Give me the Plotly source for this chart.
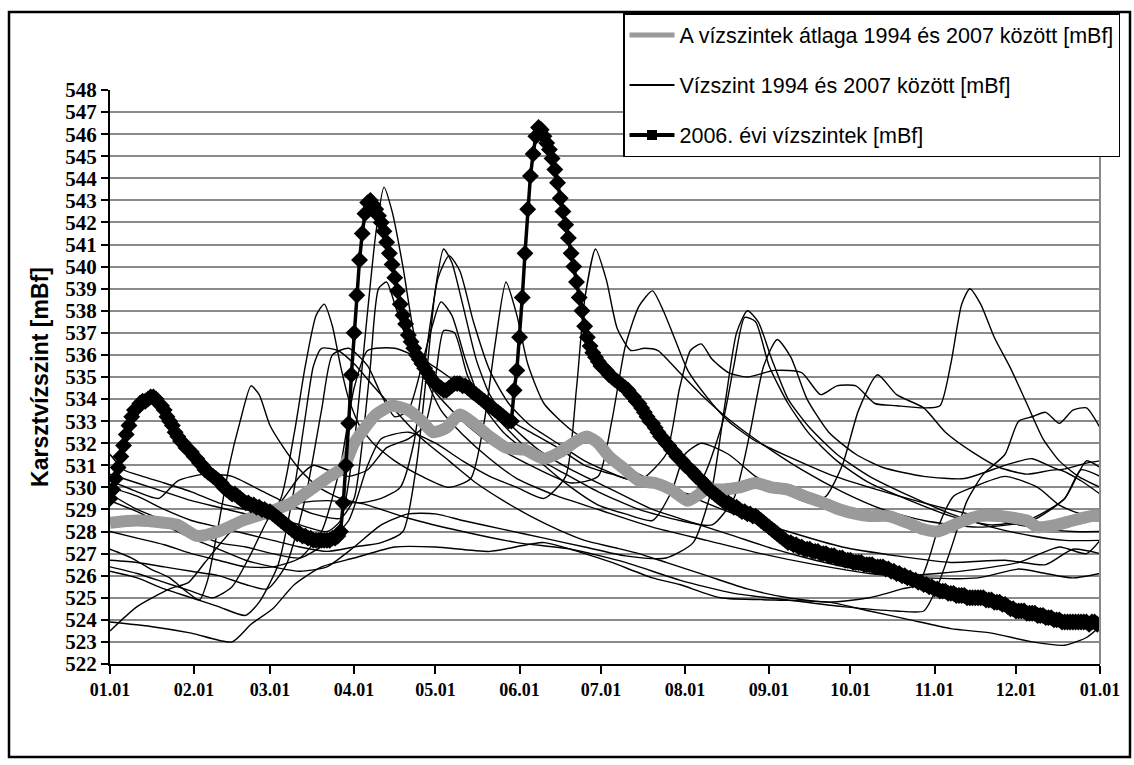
import pandas as pd
import plotly.graph_objects as go

START = pd.Timestamp("2006-01-01")

month_ticks = ["01.01", "02.01", "03.01", "04.01", "05.01", "06.01",
               "07.01", "08.01", "09.01", "10.01", "11.01", "12.01", "01.01"]

# 2006 daily karst water levels [mBf], Jan 1 .. Dec 31
level_2006 = [
    529.5, 529.9, 530.4, 530.9, 531.4, 531.9, 532.4, 532.8, 533.2, 533.5,
    533.6, 533.8, 533.9, 533.9, 534.0, 534.1, 534.1, 534.0, 533.8, 533.7,
    533.5, 533.2, 533.0, 532.8, 532.5, 532.3, 532.1, 532.0, 531.8, 531.7,
    531.6, 531.4, 531.3, 531.1, 531.0, 530.8, 530.7, 530.6, 530.5, 530.4,
    530.3, 530.2, 530.0, 529.9, 529.8, 529.7, 529.7, 529.6, 529.5, 529.4,
    529.3, 529.3, 529.2, 529.2, 529.1, 529.1, 529.0, 529.0, 528.9, 528.9,
    528.8, 528.7, 528.6, 528.5, 528.4, 528.3, 528.2, 528.1, 528.0, 527.9,
    527.9, 527.8, 527.8, 527.7, 527.7, 527.6, 527.6, 527.6, 527.6, 527.6,
    527.6, 527.6, 527.7, 527.7, 527.8, 528.0, 529.3, 531.0, 532.9, 535.1,
    537.0, 538.7, 540.3, 541.5, 542.4, 542.9, 543.0, 542.8, 542.6, 542.3,
    542.0, 541.6, 541.1, 540.6, 540.1, 539.5, 538.9, 538.3, 537.8, 537.4,
    536.9, 536.6, 536.3, 536.0, 535.8, 535.6, 535.4, 535.2, 535.0, 534.8,
    534.7, 534.6, 534.5, 534.4, 534.4, 534.5, 534.6, 534.7, 534.7, 534.7,
    534.6, 534.6, 534.5, 534.4, 534.3, 534.2, 534.1, 534.0, 533.9, 533.8,
    533.7, 533.6, 533.5, 533.4, 533.3, 533.2, 533.1, 533.0, 533.0, 534.4,
    535.3, 536.8, 538.6, 540.6, 542.6, 544.1, 545.1, 545.9, 546.3, 546.2,
    545.9, 545.6, 545.3, 544.9, 544.4, 543.8, 543.1, 542.5, 541.9, 541.3,
    540.6, 540.0, 539.3, 538.6, 538.0, 537.3, 536.8, 536.4, 536.1, 535.9,
    535.7, 535.5, 535.4, 535.3, 535.1, 535.0, 534.9, 534.8, 534.7, 534.6,
    534.5, 534.4, 534.2, 534.1, 533.9, 533.8, 533.6, 533.4, 533.2, 533.0,
    532.9, 532.7, 532.5, 532.3, 532.2, 532.0, 531.9, 531.7, 531.6, 531.4,
    531.3, 531.2, 531.0, 530.9, 530.8, 530.7, 530.5, 530.4, 530.3, 530.2,
    530.0, 529.9, 529.8, 529.7, 529.6, 529.5, 529.4, 529.3, 529.3, 529.2,
    529.1, 529.1, 529.0, 528.9, 528.9, 528.8, 528.8, 528.7, 528.7, 528.6,
    528.5, 528.4, 528.3, 528.2, 528.1, 528.0, 527.9, 527.8, 527.7, 527.6,
    527.5, 527.5, 527.4, 527.4, 527.3, 527.3, 527.2, 527.2, 527.2, 527.1,
    527.1, 527.1, 527.0, 527.0, 527.0, 526.9, 526.9, 526.9, 526.8, 526.8,
    526.8, 526.7, 526.7, 526.7, 526.6, 526.6, 526.6, 526.6, 526.5, 526.5,
    526.5, 526.5, 526.4, 526.4, 526.4, 526.4, 526.3, 526.3, 526.2, 526.2,
    526.1, 526.1, 526.0, 526.0, 525.9, 525.9, 525.8, 525.8, 525.7, 525.7,
    525.6, 525.6, 525.5, 525.5, 525.4, 525.4, 525.3, 525.3, 525.3, 525.2,
    525.2, 525.2, 525.1, 525.1, 525.1, 525.1, 525.0, 525.0, 525.0, 525.0,
    525.0, 525.0, 525.0, 524.9, 524.9, 524.9, 524.8, 524.8, 524.8, 524.7,
    524.7, 524.6, 524.5, 524.5, 524.4, 524.4, 524.4, 524.4, 524.3, 524.3,
    524.3, 524.3, 524.2, 524.2, 524.2, 524.1, 524.1, 524.1, 524.0, 524.0,
    524.0, 523.9, 523.9, 523.9, 523.9, 523.9, 523.9, 523.9, 523.9, 523.9,
    523.9, 523.8, 523.9, 523.9, 523.8,
]

# 1994-2007 mean level: (day of year, mBf)
average_pts = [
    (0, 528.4), (10, 528.5), (20, 528.4), (25, 528.3), (32, 527.8), (40, 528.0),
    (49, 528.5), (59, 528.9), (67, 529.3), (74, 529.9), (81, 530.5), (86, 530.9),
    (90, 532.0), (94, 532.7), (98, 533.3), (104, 533.7), (110, 533.5), (115, 533.0),
    (119, 532.5), (124, 532.7), (129, 533.3), (134, 532.9), (140, 532.3), (146, 531.8),
    (153, 531.7), (160, 531.3), (166, 531.6), (172, 532.1), (176, 532.3), (180, 532.0),
    (184, 531.4), (189, 530.9), (195, 530.3), (201, 530.2), (207, 529.9), (213, 529.4),
    (220, 529.9), (226, 529.9), (232, 530.0), (238, 530.2), (244, 530.0), (250, 529.9),
    (256, 529.6), (263, 529.3), (269, 529.0), (275, 528.8), (280, 528.7), (287, 528.7),
    (294, 528.4), (300, 528.1), (305, 528.0), (313, 528.4), (320, 528.7), (328, 528.7),
    (338, 528.5), (342, 528.2), (349, 528.3), (355, 528.5), (362, 528.7), (365, 528.7),
]

# yearly levels of the other years: (day of year, mBf)
curve_a = [
    (0, 523.9), (15, 523.7), (30, 523.4), (45, 523.0), (52, 523.8), (60, 524.5),
    (68, 525.6), (78, 526.4), (90, 526.8), (105, 527.3), (120, 527.3), (140, 527.1),
    (160, 527.5), (175, 527.0), (185, 526.6), (200, 525.9), (210, 525.6), (225, 525.0),
    (245, 524.9), (265, 524.8), (280, 524.4), (295, 524.0), (310, 523.6), (325, 523.4),
    (340, 523.0), (352, 522.85), (360, 523.2), (365, 523.7),
]
curve_b = [
    (0, 527.2), (8, 526.8), (15, 526.3), (22, 525.9), (28, 525.3), (33, 524.9),
    (36, 525.8), (40, 528.3), (44, 531.0), (48, 533.0), (52, 534.6), (55, 534.2),
    (59, 532.8), (64, 531.8), (70, 530.8), (77, 530.0), (85, 529.5), (95, 529.2),
    (110, 528.6), (130, 528.0), (150, 527.5), (170, 527.2), (190, 526.6), (210, 525.8),
    (230, 525.2), (250, 524.9), (270, 524.6), (290, 524.4), (300, 524.4), (305, 525.5),
    (310, 527.2), (316, 529.4), (322, 530.6), (330, 531.5), (335, 533.0), (340, 533.2),
    (345, 533.4), (350, 532.9), (355, 533.5), (360, 533.6), (365, 532.7),
]
curve_c = [
    (0, 531.5), (5, 530.8), (12, 530.5), (20, 530.2), (30, 529.8), (40, 529.3),
    (50, 529.0), (60, 528.7), (70, 528.3), (80, 528.0), (85, 528.5), (90, 532.0),
    (95, 538.0), (98, 541.5), (101, 543.6), (104, 542.5), (108, 540.0), (112, 537.0),
    (117, 534.8), (122, 533.5), (130, 532.4), (140, 531.3), (150, 530.4), (165, 529.6),
    (180, 529.0), (200, 528.2), (220, 527.6), (240, 527.0), (260, 526.5), (280, 526.1),
    (300, 525.9), (320, 525.9), (335, 526.3), (345, 526.1), (355, 525.9), (365, 526.1),
]
curve_d = [
    (0, 530.6), (10, 530.2), (20, 529.8), (30, 529.4), (40, 529.1), (50, 528.8),
    (58, 528.6), (63, 529.5), (68, 532.5), (72, 535.5), (76, 537.8), (79, 538.3),
    (82, 537.3), (85, 535.5), (88, 534.0), (92, 532.8), (97, 532.0), (105, 531.2),
    (115, 530.5), (125, 530.0), (133, 530.4), (138, 533.0), (142, 536.5), (146, 539.3),
    (150, 537.8), (154, 535.6), (160, 533.8), (170, 532.6), (180, 531.8), (195, 530.6),
    (210, 529.8), (230, 528.8), (250, 528.0), (270, 527.3), (290, 526.9), (310, 526.6),
    (330, 526.7), (345, 526.5), (355, 527.2), (365, 527.0),
]
curve_e = [
    (0, 530.3), (10, 529.8), (18, 529.5), (25, 530.3), (35, 530.6), (45, 530.5),
    (55, 529.9), (65, 529.3), (75, 528.8), (85, 528.6), (90, 529.5), (93, 532.0),
    (96, 535.5), (99, 539.0), (102, 539.3), (105, 538.3), (110, 536.5), (115, 535.3),
    (120, 534.3), (130, 533.0), (140, 532.0), (155, 531.0), (170, 530.2), (180, 530.5),
    (185, 533.0), (190, 536.4), (195, 538.2), (200, 538.9), (204, 538.0), (208, 536.8),
    (213, 535.3), (220, 534.1), (228, 533.0), (238, 532.1), (250, 531.4), (265, 530.6),
    (280, 530.0), (300, 529.3), (320, 528.7), (340, 528.2), (355, 528.0), (365, 528.0),
]
curve_f = [
    (0, 530.0), (10, 529.6), (20, 529.0), (30, 528.5), (40, 528.2), (50, 527.9),
    (60, 527.6), (70, 527.3), (80, 527.1), (90, 527.3), (100, 527.5), (108, 528.0),
    (113, 531.0), (117, 535.5), (120, 539.0), (123, 540.8), (126, 540.2), (130, 538.3),
    (135, 535.8), (140, 534.2), (148, 532.8), (158, 531.7), (170, 530.8), (185, 529.9),
    (200, 529.0), (215, 528.4), (230, 527.8), (245, 527.2), (260, 526.7), (275, 526.3),
    (290, 526.0), (305, 526.1), (320, 526.3), (335, 526.6), (350, 527.3), (360, 527.0),
    (365, 527.6),
]
curve_g = [
    (0, 529.7), (10, 529.0), (20, 528.5), (30, 528.0), (40, 527.5), (50, 527.3),
    (60, 527.0), (70, 526.8), (80, 527.5), (88, 528.5), (95, 531.0), (100, 532.2),
    (110, 532.5), (120, 532.0), (130, 531.2), (140, 530.5), (150, 530.0), (160, 529.5),
    (168, 530.5), (172, 534.5), (175, 538.5), (179, 540.8), (183, 539.4), (187, 537.2),
    (192, 536.2), (197, 536.3), (202, 536.2), (210, 535.2), (218, 534.2), (228, 533.1),
    (240, 532.0), (255, 530.8), (270, 529.8), (285, 529.0), (300, 528.5), (320, 528.2),
    (340, 528.5), (352, 529.5), (358, 530.8), (365, 530.5),
]
curve_h = [
    (0, 529.4), (10, 528.9), (20, 528.3), (30, 527.7), (40, 527.2), (50, 526.7),
    (60, 526.4), (70, 526.2), (80, 526.4), (90, 527.3), (100, 528.3), (110, 528.8),
    (120, 528.8), (130, 528.5), (145, 528.1), (160, 527.7), (175, 527.3), (190, 526.9),
    (205, 526.8), (215, 527.5), (222, 530.0), (227, 534.0), (231, 537.0), (235, 538.0),
    (239, 537.5), (244, 535.8), (250, 534.0), (258, 532.7), (268, 531.5), (280, 530.5),
    (295, 529.6), (310, 528.8), (325, 528.2), (340, 527.8), (352, 527.6), (365, 527.6),
]
curve_i = [
    (0, 528.0), (10, 527.7), (20, 527.4), (30, 527.0), (40, 526.7), (50, 526.4),
    (60, 526.4), (70, 526.8), (78, 528.0), (85, 531.0), (90, 534.5), (95, 536.2),
    (105, 536.3), (115, 535.8), (125, 535.0), (135, 534.0), (145, 533.2), (155, 532.5),
    (165, 531.8), (175, 531.0), (185, 530.6), (195, 530.3), (205, 531.5), (210, 534.5),
    (214, 536.2), (218, 536.5), (222, 535.8), (228, 535.2), (235, 535.0), (245, 535.3),
    (255, 535.2), (262, 534.2), (268, 534.6), (275, 534.6), (282, 533.8), (290, 533.7),
    (300, 533.6), (306, 533.7), (310, 535.6), (314, 538.3), (317, 539.0), (321, 538.3),
    (326, 536.8), (332, 535.4), (338, 533.8), (344, 532.2), (350, 531.2), (357, 530.5),
    (365, 530.0),
]
curve_j = [
    (0, 526.7), (10, 526.6), (20, 526.4), (30, 526.2), (40, 526.0), (50, 525.6),
    (58, 525.4), (65, 526.5), (72, 529.5), (78, 533.5), (82, 536.0), (88, 536.3),
    (95, 535.5), (100, 534.2), (105, 533.2), (110, 533.5), (117, 536.5), (122, 538.4),
    (126, 537.8), (131, 535.8), (137, 533.8), (145, 532.5), (155, 531.5), (168, 530.6),
    (180, 529.8), (195, 529.0), (210, 528.5), (222, 528.3), (230, 529.5), (236, 532.5),
    (241, 535.5), (246, 536.7), (251, 535.9), (257, 534.0), (265, 532.5), (275, 531.5),
    (285, 530.9), (300, 530.5), (315, 530.4), (330, 531.0), (340, 531.3), (350, 530.8),
    (360, 531.1), (365, 531.2),
]
curve_k = [
    (0, 526.4), (10, 526.1), (20, 525.7), (30, 525.3), (38, 525.0), (45, 525.5),
    (52, 527.0), (58, 528.5), (64, 529.5), (70, 530.5), (75, 531.0), (80, 530.8),
    (88, 530.5), (95, 530.8), (102, 531.8), (110, 532.2), (116, 532.8), (120, 535.0),
    (123, 537.1), (127, 537.0), (132, 535.0), (140, 533.5), (150, 532.2), (160, 531.0),
    (170, 530.0), (180, 529.2), (190, 528.8), (200, 528.5), (207, 529.8), (212, 531.5),
    (218, 532.0), (228, 531.5), (238, 530.5), (248, 529.8), (258, 529.3), (264, 529.6),
    (270, 531.0), (276, 533.5), (283, 535.1), (290, 534.2), (300, 533.6), (308, 532.5),
    (318, 531.6), (328, 530.9), (338, 530.6), (350, 530.8), (358, 530.3), (365, 529.7),
]
curve_l = [
    (0, 523.5), (10, 524.6), (22, 525.4), (29, 525.7), (35, 526.6), (41, 527.5),
    (47, 528.3), (55, 528.8), (62, 529.1), (70, 529.3), (80, 529.4), (92, 529.3),
    (100, 529.5), (107, 530.0), (112, 532.0), (117, 536.5), (121, 539.5), (125, 540.5),
    (129, 539.8), (134, 537.5), (140, 535.3), (147, 533.8), (155, 532.8), (165, 532.0),
    (175, 531.2), (190, 530.4), (205, 530.0), (215, 529.7), (220, 530.8), (226, 533.0),
    (230, 535.5), (234, 537.7), (238, 537.5), (243, 535.5), (250, 533.8), (258, 532.4),
    (268, 531.2), (280, 530.2), (295, 529.4), (310, 528.7), (325, 528.3), (340, 528.6),
    (352, 529.5), (360, 531.2), (365, 530.9),
]
curve_m = [
    (0, 526.2), (10, 525.9), (20, 525.4), (30, 525.0), (40, 524.6), (50, 524.2),
    (55, 524.8), (62, 526.5), (68, 530.0), (72, 533.2), (75, 535.5), (78, 536.3),
    (84, 536.2), (90, 535.6), (97, 534.6), (105, 533.5), (115, 532.2), (125, 531.2),
    (135, 530.2), (145, 529.4), (155, 528.7), (165, 528.1), (175, 527.6), (185, 527.3),
    (195, 527.0), (205, 526.6), (220, 526.0), (235, 525.4), (250, 525.0), (265, 524.8),
    (280, 525.0), (292, 525.4), (298, 525.6), (302, 526.8), (306, 528.4), (311, 529.6),
    (318, 530.0), (330, 530.5), (342, 530.0), (350, 529.2), (358, 528.8), (365, 528.9),
]

other_years = [curve_a, curve_b, curve_c, curve_d, curve_e, curve_f, curve_g,
               curve_h, curve_i, curve_j, curve_k, curve_l, curve_m]


def as_dates(days):
    return [START + pd.Timedelta(days=d) for d in days]


fig = go.Figure()

for curve in other_years:
    days, vals = zip(*curve)
    fig.add_trace(go.Scatter(
        x=as_dates(days), y=list(vals), mode="lines",
        line=dict(color="black", width=1.4, shape="spline", smoothing=0.6),
        showlegend=False, hoverinfo="skip",
    ))

avg_days, avg_vals = zip(*average_pts)
fig.add_trace(go.Scatter(
    x=as_dates(avg_days), y=list(avg_vals), mode="lines",
    line=dict(color="#9a9a9a", width=12, shape="spline", smoothing=0.6),
    showlegend=False, hoverinfo="skip",
))

fig.add_trace(go.Scatter(
    x=as_dates(range(len(level_2006))), y=level_2006, mode="lines+markers",
    line=dict(color="black", width=3.5),
    marker=dict(symbol="diamond", size=13, color="black"),
    showlegend=False, hoverinfo="skip",
))

# legend entries
fig.add_trace(go.Scatter(
    x=[None], y=[None], mode="lines", legendgroup="g1",
    line=dict(color="#9a9a9a", width=5),
    name="A vízszintek átlaga 1994 és 2007 között [mBf]",
))
fig.add_trace(go.Scatter(
    x=[None], y=[None], mode="lines", legendgroup="g2",
    line=dict(color="black", width=2),
    name="Vízszint 1994 és 2007 között [mBf]",
))
fig.add_trace(go.Scatter(
    x=[None], y=[None], mode="lines+markers", legendgroup="g3",
    line=dict(color="black", width=4),
    marker=dict(symbol="square", size=10, color="black"),
    name="2006. évi vízszintek [mBf]",
))

L, R, T, B = 110, 34, 90, 101
W, H = 1134, 765
pw, ph = W - L - R, H - T - B


def px_x(p):
    return (p - L) / pw


def px_y(p):
    return (H - B - p) / ph


fig.update_layout(
    width=W, height=H,
    margin=dict(l=L, r=R, t=T, b=B, pad=0, autoexpand=False),
    paper_bgcolor="white", plot_bgcolor="white",
    legend=dict(
        x=px_x(623), y=px_y(13), xanchor="left", yanchor="top",
        bgcolor="white", bordercolor="black", borderwidth=1.5,
        font=dict(family="Liberation Sans", size=21.5, color="black"),
        traceorder="grouped", tracegroupgap=19, itemwidth=45,
    ),
    xaxis=dict(
        type="date",
        range=[START, START + pd.Timedelta(days=365)],
        tickvals=[START + pd.DateOffset(months=i) for i in range(13)],
        ticktext=month_ticks,
        ticks="outside", ticklen=8, tickwidth=2, tickcolor="black",
        showline=True, linecolor="black", linewidth=2,
        showgrid=False, zeroline=False,
        tickfont=dict(family="Liberation Serif", size=18, color="black", weight="bold"),
    ),
    yaxis=dict(
        range=[522, 548], dtick=1, tick0=522,
        ticks="outside", ticklen=7, tickwidth=2, tickcolor="black",
        showline=True, linecolor="black", linewidth=2,
        showgrid=True, gridcolor="#8a8a8a", gridwidth=2, zeroline=False,
        tickfont=dict(family="Liberation Serif", size=21, color="black", weight="bold"),
        title=dict(text="Karsztvízszint [mBf]", standoff=10,
                   font=dict(family="Liberation Sans", size=23, color="black", weight="bold")),
    ),
    shapes=[
        dict(type="line", xref="paper", yref="paper", x0=1, x1=1, y0=0, y1=1,
             line=dict(color="#8a8a8a", width=2)),
        dict(type="rect", xref="paper", yref="paper",
             x0=px_x(9), x1=px_x(1130), y0=px_y(757), y1=px_y(12),
             line=dict(color="black", width=2.5), layer="below"),
    ],
)

fig.write_html("out.html")
